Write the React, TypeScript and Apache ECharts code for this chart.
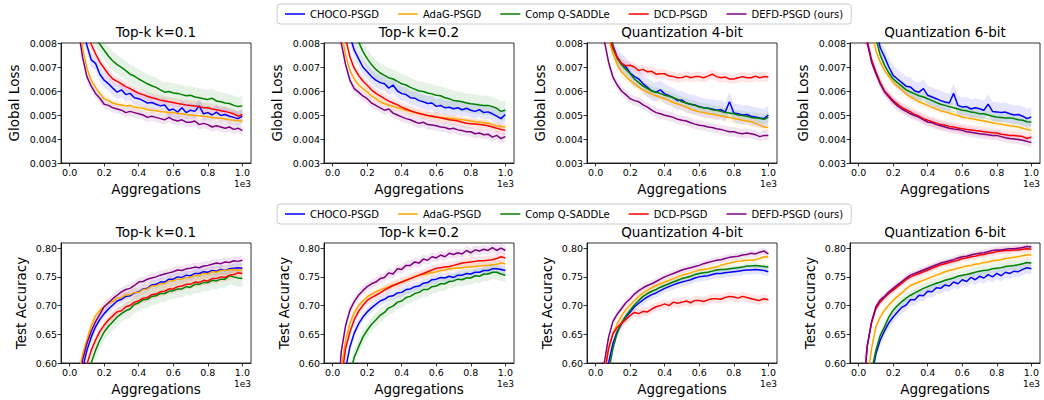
import React, { useEffect, useRef } from "react";
import * as echarts from "echarts";

const FONT = "DejaVu Sans";
const METHODS = ["CHOCO-PSGD", "AdaG-PSGD", "Comp Q-SADDLe", "DCD-PSGD", "DEFD-PSGD (ours)"];
const COLORS = ["#0000ff", "#ffa500", "#008000", "#ff0000", "#800080"];
const TITLES = ["Top-k k=0.1", "Top-k k=0.2", "Quantization 4-bit", "Quantization 6-bit"];

const X = [0, 25, 50, 75, 100, 125, 150, 175, 200, 225, 250, 275, 300, 325, 350, 375, 400, 425, 450, 475, 500,
  525, 550, 575, 600, 625, 650, 675, 700, 725, 750, 775, 800, 825, 850, 875, 900, 925, 950, 975, 1000];
const X_TICKS = [0, 200, 400, 600, 800, 1000];
const LOSS_TICKS = [0.003, 0.004, 0.005, 0.006, 0.007, 0.008];
const ACC_TICKS = [0.6, 0.65, 0.7, 0.75, 0.8];

// ---- Global loss, Top-k k=0.1
const L1_CHOCO = [14e-3, 12e-3, 10.2e-3, 8.8e-3, 7.9e-3, 7.3e-3, 7.15e-3, 6.7e-3, 6.45e-3, 6.3e-3, 6.12e-3, 5.95e-3, 6.05e-3, 5.85e-3, 5.9e-3, 5.72e-3, 5.68e-3, 5.6e-3, 5.5e-3, 5.52e-3, 5.45e-3, 5.38e-3, 5.42e-3, 5.2e-3, 5.25e-3, 5.12e-3, 5.3e-3, 5.1e-3, 5.2e-3, 5.15e-3, 5.38e-3, 5.05e-3, 5.1e-3, 5.0e-3, 5.12e-3, 4.98e-3, 5.02e-3, 4.95e-3, 4.9e-3, 4.85e-3, 4.95e-3];
const L1_ADAG = [14e-3, 11.5e-3, 9.2e-3, 7.8e-3, 6.95e-3, 6.45e-3, 6.15e-3, 5.9e-3, 5.68e-3, 5.6e-3, 5.5e-3, 5.45e-3, 5.42e-3, 5.38e-3, 5.4e-3, 5.33e-3, 5.3e-3, 5.28e-3, 5.22e-3, 5.2e-3, 5.18e-3, 5.15e-3, 5.12e-3, 5.1e-3, 5.1e-3, 5.06e-3, 5.05e-3, 5.02e-3, 5.0e-3, 4.98e-3, 4.97e-3, 4.95e-3, 4.93e-3, 4.9e-3, 4.88e-3, 4.86e-3, 4.83e-3, 4.8e-3, 4.78e-3, 4.76e-3, 4.75e-3];
const L1_COMPQ = [16e-3, 14e-3, 12e-3, 10.5e-3, 9.4e-3, 8.7e-3, 8.2e-3, 7.95e-3, 7.7e-3, 7.45e-3, 7.25e-3, 7.1e-3, 6.98e-3, 6.85e-3, 6.7e-3, 6.62e-3, 6.5e-3, 6.4e-3, 6.3e-3, 6.22e-3, 6.15e-3, 6.05e-3, 5.95e-3, 5.98e-3, 5.92e-3, 5.9e-3, 5.85e-3, 5.8e-3, 5.82e-3, 5.75e-3, 5.72e-3, 5.68e-3, 5.65e-3, 5.7e-3, 5.58e-3, 5.55e-3, 5.5e-3, 5.48e-3, 5.4e-3, 5.35e-3, 5.38e-3];
const L1_DCD = [15e-3, 12.8e-3, 10.8e-3, 9.4e-3, 8.5e-3, 7.95e-3, 7.55e-3, 7.2e-3, 6.95e-3, 6.7e-3, 6.5e-3, 6.4e-3, 6.3e-3, 6.18e-3, 6.1e-3, 6.0e-3, 5.9e-3, 5.85e-3, 5.78e-3, 5.72e-3, 5.68e-3, 5.62e-3, 5.58e-3, 5.55e-3, 5.52e-3, 5.48e-3, 5.45e-3, 5.42e-3, 5.4e-3, 5.38e-3, 5.35e-3, 5.3e-3, 5.3e-3, 5.25e-3, 5.22e-3, 5.18e-3, 5.15e-3, 5.1e-3, 5.05e-3, 4.95e-3, 5.02e-3];
const L1_DEFD = [12.5e-3, 10.5e-3, 8.6e-3, 7.4e-3, 6.6e-3, 6.2e-3, 5.9e-3, 5.7e-3, 5.45e-3, 5.4e-3, 5.3e-3, 5.25e-3, 5.2e-3, 5.1e-3, 5.15e-3, 5.1e-3, 5.05e-3, 5.0e-3, 4.9e-3, 4.95e-3, 4.9e-3, 4.85e-3, 4.8e-3, 4.9e-3, 4.8e-3, 4.75e-3, 4.8e-3, 4.7e-3, 4.7e-3, 4.75e-3, 4.6e-3, 4.65e-3, 4.6e-3, 4.5e-3, 4.55e-3, 4.5e-3, 4.45e-3, 4.5e-3, 4.4e-3, 4.45e-3, 4.35e-3];

// ---- Global loss, Top-k k=0.2
const L2_CHOCO = [15e-3, 13e-3, 11e-3, 9.4e-3, 8.3e-3, 7.7e-3, 7.35e-3, 7.0e-3, 6.8e-3, 6.6e-3, 6.45e-3, 6.35e-3, 6.3e-3, 6.12e-3, 6.25e-3, 6.0e-3, 5.89e-3, 5.85e-3, 5.72e-3, 5.7e-3, 5.6e-3, 5.55e-3, 5.48e-3, 5.5e-3, 5.36e-3, 5.4e-3, 5.3e-3, 5.32e-3, 5.26e-3, 5.3e-3, 5.22e-3, 5.28e-3, 5.2e-3, 5.15e-3, 5.22e-3, 5.1e-3, 5.13e-3, 5.05e-3, 4.95e-3, 4.85e-3, 5.02e-3];
const L2_ADAG = [12e-3, 10e-3, 8.5e-3, 7.5e-3, 6.86e-3, 6.5e-3, 6.25e-3, 6.1e-3, 5.96e-3, 5.8e-3, 5.68e-3, 5.55e-3, 5.47e-3, 5.42e-3, 5.36e-3, 5.3e-3, 5.26e-3, 5.2e-3, 5.15e-3, 5.1e-3, 5.08e-3, 5.02e-3, 4.98e-3, 4.95e-3, 4.92e-3, 4.9e-3, 4.88e-3, 4.86e-3, 4.85e-3, 4.82e-3, 4.8e-3, 4.78e-3, 4.75e-3, 4.72e-3, 4.7e-3, 4.68e-3, 4.66e-3, 4.6e-3, 4.55e-3, 4.52e-3, 4.5e-3];
const L2_COMPQ = [17e-3, 15e-3, 12.8e-3, 11e-3, 9.6e-3, 8.7e-3, 8.05e-3, 7.65e-3, 7.35e-3, 7.1e-3, 6.9e-3, 6.75e-3, 6.65e-3, 6.55e-3, 6.5e-3, 6.4e-3, 6.3e-3, 6.25e-3, 6.15e-3, 6.08e-3, 6.0e-3, 5.98e-3, 5.92e-3, 5.88e-3, 5.82e-3, 5.8e-3, 5.72e-3, 5.68e-3, 5.6e-3, 5.58e-3, 5.55e-3, 5.5e-3, 5.47e-3, 5.45e-3, 5.42e-3, 5.4e-3, 5.4e-3, 5.35e-3, 5.28e-3, 5.15e-3, 5.2e-3];
const L2_DCD = [13e-3, 11e-3, 9.3e-3, 8.2e-3, 7.42e-3, 6.95e-3, 6.65e-3, 6.42e-3, 6.24e-3, 6.05e-3, 5.9e-3, 5.8e-3, 5.68e-3, 5.58e-3, 5.5e-3, 5.42e-3, 5.33e-3, 5.25e-3, 5.18e-3, 5.12e-3, 5.06e-3, 5.02e-3, 4.98e-3, 4.95e-3, 4.92e-3, 4.88e-3, 4.84e-3, 4.8e-3, 4.78e-3, 4.75e-3, 4.7e-3, 4.66e-3, 4.64e-3, 4.62e-3, 4.6e-3, 4.58e-3, 4.55e-3, 4.5e-3, 4.45e-3, 4.4e-3, 4.36e-3];
const L2_DEFD = [11e-3, 9.3e-3, 8.0e-3, 7.1e-3, 6.45e-3, 6.1e-3, 5.95e-3, 5.8e-3, 5.68e-3, 5.5e-3, 5.4e-3, 5.3e-3, 5.2e-3, 5.25e-3, 5.08e-3, 5.0e-3, 4.92e-3, 4.85e-3, 4.8e-3, 4.72e-3, 4.65e-3, 4.7e-3, 4.6e-3, 4.58e-3, 4.55e-3, 4.5e-3, 4.48e-3, 4.42e-3, 4.45e-3, 4.38e-3, 4.35e-3, 4.3e-3, 4.3e-3, 4.22e-3, 4.25e-3, 4.18e-3, 4.2e-3, 4.08e-3, 4.15e-3, 4.02e-3, 4.1e-3];

// ---- Global loss, Quantization 4-bit
const L3_CHOCO = [14e-3, 12e-3, 10e-3, 8.8e-3, 7.9e-3, 7.4e-3, 7.15e-3, 7.0e-3, 6.75e-3, 6.6e-3, 6.5e-3, 6.3e-3, 6.15e-3, 6.0e-3, 5.95e-3, 6.05e-3, 5.88e-3, 5.8e-3, 5.72e-3, 5.6e-3, 5.62e-3, 5.5e-3, 5.45e-3, 5.42e-3, 5.35e-3, 5.3e-3, 5.28e-3, 5.25e-3, 5.2e-3, 5.22e-3, 5.12e-3, 5.55e-3, 5.08e-3, 5.05e-3, 5.0e-3, 5.02e-3, 4.95e-3, 4.92e-3, 4.88e-3, 4.85e-3, 5.0e-3];
const L3_ADAG = [13e-3, 11e-3, 9.4e-3, 8.2e-3, 7.56e-3, 7.1e-3, 6.8e-3, 6.6e-3, 6.44e-3, 6.3e-3, 6.15e-3, 6.05e-3, 5.96e-3, 5.88e-3, 5.8e-3, 5.74e-3, 5.68e-3, 5.6e-3, 5.52e-3, 5.46e-3, 5.4e-3, 5.32e-3, 5.25e-3, 5.18e-3, 5.13e-3, 5.1e-3, 5.06e-3, 5.03e-3, 5.0e-3, 4.96e-3, 4.93e-3, 4.9e-3, 4.85e-3, 4.82e-3, 4.78e-3, 4.75e-3, 4.72e-3, 4.65e-3, 4.58e-3, 4.5e-3, 4.48e-3];
const L3_COMPQ = [14e-3, 12e-3, 10.2e-3, 8.8e-3, 7.85e-3, 7.35e-3, 7.1e-3, 6.9e-3, 6.72e-3, 6.5e-3, 6.35e-3, 6.2e-3, 6.1e-3, 6.0e-3, 5.95e-3, 5.9e-3, 5.82e-3, 5.78e-3, 5.72e-3, 5.65e-3, 5.55e-3, 5.5e-3, 5.45e-3, 5.4e-3, 5.33e-3, 5.3e-3, 5.28e-3, 5.22e-3, 5.2e-3, 5.15e-3, 5.1e-3, 5.08e-3, 5.05e-3, 5.0e-3, 4.98e-3, 4.95e-3, 4.9e-3, 4.88e-3, 4.85e-3, 4.82e-3, 4.9e-3];
const L3_DCD = [13e-3, 11e-3, 9.5e-3, 8.4e-3, 7.76e-3, 7.4e-3, 7.15e-3, 7.05e-3, 7.07e-3, 7.0e-3, 6.85e-3, 6.9e-3, 6.8e-3, 6.82e-3, 6.7e-3, 6.72e-3, 6.72e-3, 6.62e-3, 6.6e-3, 6.55e-3, 6.56e-3, 6.62e-3, 6.55e-3, 6.6e-3, 6.6e-3, 6.55e-3, 6.62e-3, 6.7e-3, 6.6e-3, 6.55e-3, 6.58e-3, 6.5e-3, 6.5e-3, 6.55e-3, 6.6e-3, 6.55e-3, 6.55e-3, 6.62e-3, 6.55e-3, 6.6e-3, 6.58e-3];
const L3_DEFD = [11e-3, 9.5e-3, 8.1e-3, 7.2e-3, 6.58e-3, 6.25e-3, 6.0e-3, 5.85e-3, 5.68e-3, 5.6e-3, 5.55e-3, 5.42e-3, 5.33e-3, 5.2e-3, 5.1e-3, 5.05e-3, 4.99e-3, 4.95e-3, 4.9e-3, 4.82e-3, 4.78e-3, 4.75e-3, 4.68e-3, 4.62e-3, 4.57e-3, 4.55e-3, 4.5e-3, 4.48e-3, 4.43e-3, 4.4e-3, 4.35e-3, 4.3e-3, 4.3e-3, 4.25e-3, 4.22e-3, 4.25e-3, 4.22e-3, 4.18e-3, 4.1e-3, 4.15e-3, 4.15e-3];

// ---- Global loss, Quantization 6-bit
const L4_CHOCO = [16e-3, 14e-3, 12e-3, 10e-3, 8.6e-3, 7.8e-3, 7.42e-3, 7.0e-3, 6.65e-3, 6.5e-3, 6.35e-3, 6.2e-3, 6.17e-3, 6.0e-3, 5.95e-3, 6.1e-3, 5.82e-3, 5.75e-3, 5.68e-3, 5.6e-3, 5.54e-3, 5.5e-3, 5.9e-3, 5.4e-3, 5.33e-3, 5.35e-3, 5.25e-3, 5.3e-3, 5.26e-3, 5.2e-3, 5.45e-3, 5.15e-3, 5.13e-3, 5.1e-3, 5.12e-3, 5.05e-3, 5.0e-3, 5.02e-3, 4.95e-3, 4.85e-3, 4.92e-3];
const L4_ADAG = [13e-3, 11.5e-3, 9.8e-3, 8.5e-3, 7.7e-3, 7.2e-3, 6.86e-3, 6.6e-3, 6.37e-3, 6.2e-3, 6.05e-3, 5.88e-3, 5.75e-3, 5.65e-3, 5.55e-3, 5.48e-3, 5.4e-3, 5.32e-3, 5.25e-3, 5.18e-3, 5.13e-3, 5.08e-3, 5.02e-3, 4.98e-3, 4.92e-3, 4.88e-3, 4.85e-3, 4.82e-3, 4.78e-3, 4.75e-3, 4.72e-3, 4.68e-3, 4.64e-3, 4.62e-3, 4.58e-3, 4.55e-3, 4.53e-3, 4.5e-3, 4.45e-3, 4.4e-3, 4.36e-3];
const L4_COMPQ = [15e-3, 13e-3, 11e-3, 9.4e-3, 8.2e-3, 7.5e-3, 7.07e-3, 6.75e-3, 6.5e-3, 6.35e-3, 6.2e-3, 6.05e-3, 5.96e-3, 5.88e-3, 5.8e-3, 5.75e-3, 5.68e-3, 5.6e-3, 5.52e-3, 5.45e-3, 5.4e-3, 5.35e-3, 5.3e-3, 5.25e-3, 5.2e-3, 5.18e-3, 5.12e-3, 5.1e-3, 5.05e-3, 5.05e-3, 5.0e-3, 4.95e-3, 4.92e-3, 4.9e-3, 4.88e-3, 4.88e-3, 4.85e-3, 4.8e-3, 4.78e-3, 4.72e-3, 4.71e-3];
const L4_DCD = [11e-3, 9.5e-3, 8.1e-3, 7.3e-3, 6.8e-3, 6.35e-3, 6.0e-3, 5.8e-3, 5.6e-3, 5.45e-3, 5.32e-3, 5.22e-3, 5.13e-3, 5.02e-3, 4.95e-3, 4.85e-3, 4.78e-3, 4.72e-3, 4.66e-3, 4.6e-3, 4.57e-3, 4.52e-3, 4.5e-3, 4.46e-3, 4.43e-3, 4.4e-3, 4.38e-3, 4.35e-3, 4.33e-3, 4.3e-3, 4.28e-3, 4.26e-3, 4.25e-3, 4.2e-3, 4.18e-3, 4.15e-3, 4.15e-3, 4.12e-3, 4.1e-3, 4.02e-3, 4.08e-3];
const L4_DEFD = [11e-3, 9.4e-3, 8.0e-3, 7.2e-3, 6.72e-3, 6.3e-3, 5.96e-3, 5.75e-3, 5.54e-3, 5.38e-3, 5.25e-3, 5.15e-3, 5.05e-3, 4.98e-3, 4.9e-3, 4.8e-3, 4.71e-3, 4.68e-3, 4.6e-3, 4.55e-3, 4.5e-3, 4.45e-3, 4.42e-3, 4.4e-3, 4.36e-3, 4.3e-3, 4.28e-3, 4.25e-3, 4.22e-3, 4.2e-3, 4.18e-3, 4.15e-3, 4.15e-3, 4.1e-3, 4.05e-3, 4.02e-3, 4.0e-3, 3.98e-3, 3.95e-3, 3.9e-3, 3.85e-3];

// ---- Test accuracy, Top-k k=0.1
const A1_CHOCO = [0.33, 0.43, 0.52, 0.59, 0.622, 0.645, 0.663, 0.676, 0.686, 0.694, 0.701, 0.708, 0.711, 0.716, 0.717, 0.722, 0.724, 0.729, 0.73, 0.736, 0.737, 0.741, 0.741, 0.746, 0.746, 0.75, 0.749, 0.753, 0.752, 0.756, 0.756, 0.759, 0.758, 0.761, 0.76, 0.763, 0.761, 0.764, 0.765, 0.766, 0.765];
const A1_ADAG = [0.38, 0.48, 0.57, 0.615, 0.64, 0.665, 0.682, 0.692, 0.698, 0.704, 0.707, 0.713, 0.714, 0.719, 0.719, 0.723, 0.723, 0.728, 0.729, 0.734, 0.734, 0.738, 0.738, 0.743, 0.743, 0.746, 0.746, 0.749, 0.749, 0.753, 0.752, 0.756, 0.755, 0.759, 0.758, 0.761, 0.761, 0.762, 0.763, 0.762, 0.762];
const A1_COMPQ = [0.28, 0.36, 0.44, 0.52, 0.57, 0.6, 0.622, 0.64, 0.654, 0.664, 0.672, 0.68, 0.686, 0.691, 0.694, 0.702, 0.705, 0.71, 0.711, 0.716, 0.717, 0.721, 0.721, 0.725, 0.726, 0.729, 0.729, 0.733, 0.732, 0.737, 0.737, 0.74, 0.74, 0.744, 0.743, 0.746, 0.746, 0.752, 0.75, 0.748, 0.747];
const A1_DCD = [0.3, 0.38, 0.47, 0.55, 0.598, 0.622, 0.64, 0.655, 0.666, 0.675, 0.682, 0.689, 0.691, 0.698, 0.7, 0.706, 0.708, 0.713, 0.714, 0.719, 0.72, 0.724, 0.725, 0.729, 0.729, 0.733, 0.734, 0.737, 0.737, 0.741, 0.74, 0.744, 0.743, 0.747, 0.747, 0.75, 0.749, 0.753, 0.754, 0.757, 0.756];
const A1_DEFD = [0.35, 0.45, 0.54, 0.605, 0.634, 0.655, 0.672, 0.685, 0.698, 0.705, 0.712, 0.718, 0.724, 0.728, 0.73, 0.735, 0.741, 0.742, 0.746, 0.748, 0.75, 0.753, 0.755, 0.757, 0.759, 0.762, 0.761, 0.764, 0.765, 0.767, 0.766, 0.769, 0.77, 0.772, 0.774, 0.773, 0.776, 0.775, 0.778, 0.777, 0.779];

// ---- Test accuracy, Top-k k=0.2
const A2_CHOCO = [0.33, 0.43, 0.52, 0.59, 0.628, 0.652, 0.668, 0.68, 0.689, 0.696, 0.702, 0.708, 0.711, 0.716, 0.717, 0.722, 0.723, 0.728, 0.729, 0.733, 0.734, 0.739, 0.74, 0.745, 0.746, 0.749, 0.748, 0.751, 0.749, 0.753, 0.753, 0.756, 0.755, 0.758, 0.758, 0.761, 0.761, 0.764, 0.764, 0.763, 0.761];
const A2_ADAG = [0.38, 0.5, 0.59, 0.64, 0.669, 0.688, 0.7, 0.708, 0.715, 0.72, 0.724, 0.727, 0.73, 0.733, 0.736, 0.738, 0.741, 0.744, 0.747, 0.75, 0.753, 0.754, 0.756, 0.757, 0.759, 0.761, 0.762, 0.764, 0.765, 0.765, 0.766, 0.767, 0.767, 0.768, 0.769, 0.77, 0.77, 0.771, 0.772, 0.774, 0.773];
const A2_COMPQ = [0.28, 0.36, 0.45, 0.53, 0.58, 0.61, 0.628, 0.645, 0.657, 0.667, 0.675, 0.683, 0.688, 0.696, 0.699, 0.706, 0.708, 0.714, 0.716, 0.721, 0.723, 0.728, 0.728, 0.733, 0.734, 0.738, 0.738, 0.742, 0.743, 0.746, 0.745, 0.748, 0.748, 0.752, 0.751, 0.755, 0.755, 0.758, 0.758, 0.755, 0.753];
const A2_DCD = [0.36, 0.47, 0.57, 0.625, 0.654, 0.675, 0.69, 0.7, 0.709, 0.714, 0.718, 0.722, 0.727, 0.731, 0.735, 0.738, 0.741, 0.744, 0.747, 0.75, 0.753, 0.756, 0.759, 0.762, 0.765, 0.766, 0.767, 0.768, 0.77, 0.772, 0.774, 0.775, 0.776, 0.777, 0.778, 0.778, 0.779, 0.78, 0.782, 0.785, 0.783];
const A2_DEFD = [0.4, 0.52, 0.62, 0.665, 0.692, 0.707, 0.718, 0.726, 0.733, 0.738, 0.741, 0.747, 0.749, 0.757, 0.755, 0.764, 0.763, 0.77, 0.77, 0.776, 0.774, 0.781, 0.779, 0.785, 0.783, 0.788, 0.785, 0.791, 0.789, 0.792, 0.79, 0.796, 0.792, 0.797, 0.795, 0.798, 0.796, 0.801, 0.796, 0.8, 0.796];

// ---- Test accuracy, Quantization 4-bit
const A3_CHOCO = [0.34, 0.44, 0.53, 0.6, 0.634, 0.655, 0.668, 0.68, 0.689, 0.698, 0.704, 0.71, 0.715, 0.719, 0.722, 0.726, 0.73, 0.733, 0.736, 0.739, 0.741, 0.743, 0.745, 0.748, 0.75, 0.751, 0.752, 0.754, 0.756, 0.756, 0.757, 0.758, 0.759, 0.76, 0.761, 0.762, 0.762, 0.763, 0.762, 0.761, 0.759];
const A3_ADAG = [0.38, 0.48, 0.58, 0.625, 0.651, 0.668, 0.682, 0.693, 0.701, 0.709, 0.716, 0.722, 0.727, 0.731, 0.735, 0.738, 0.741, 0.744, 0.747, 0.75, 0.753, 0.755, 0.757, 0.76, 0.762, 0.763, 0.764, 0.766, 0.767, 0.77, 0.772, 0.774, 0.776, 0.777, 0.778, 0.779, 0.779, 0.78, 0.782, 0.785, 0.784];
const A3_COMPQ = [0.32, 0.42, 0.51, 0.585, 0.625, 0.652, 0.67, 0.682, 0.692, 0.701, 0.709, 0.716, 0.721, 0.725, 0.728, 0.732, 0.735, 0.738, 0.741, 0.744, 0.747, 0.749, 0.751, 0.754, 0.756, 0.757, 0.758, 0.76, 0.762, 0.763, 0.763, 0.764, 0.765, 0.766, 0.767, 0.769, 0.769, 0.77, 0.769, 0.768, 0.767];
const A3_DCD = [0.38, 0.48, 0.58, 0.625, 0.651, 0.662, 0.669, 0.676, 0.683, 0.688, 0.686, 0.69, 0.689, 0.694, 0.698, 0.7, 0.703, 0.7, 0.706, 0.704, 0.706, 0.708, 0.705, 0.709, 0.709, 0.707, 0.71, 0.712, 0.712, 0.711, 0.714, 0.716, 0.715, 0.713, 0.716, 0.714, 0.712, 0.71, 0.709, 0.712, 0.71];
const A3_DEFD = [0.4, 0.5, 0.6, 0.645, 0.672, 0.685, 0.695, 0.705, 0.712, 0.72, 0.726, 0.731, 0.735, 0.738, 0.742, 0.746, 0.75, 0.753, 0.756, 0.759, 0.762, 0.764, 0.766, 0.768, 0.77, 0.773, 0.775, 0.777, 0.779, 0.78, 0.782, 0.784, 0.785, 0.786, 0.788, 0.789, 0.791, 0.79, 0.793, 0.795, 0.79];

// ---- Test accuracy, Quantization 6-bit
const A4_CHOCO = [0.3, 0.4, 0.5, 0.575, 0.616, 0.64, 0.656, 0.67, 0.68, 0.689, 0.697, 0.701, 0.71, 0.71, 0.718, 0.717, 0.725, 0.724, 0.731, 0.73, 0.736, 0.734, 0.741, 0.738, 0.745, 0.742, 0.749, 0.745, 0.751, 0.748, 0.754, 0.75, 0.756, 0.752, 0.758, 0.756, 0.76, 0.759, 0.763, 0.766, 0.764];
const A4_ADAG = [0.36, 0.47, 0.57, 0.625, 0.663, 0.68, 0.692, 0.701, 0.709, 0.716, 0.722, 0.729, 0.735, 0.738, 0.741, 0.744, 0.747, 0.75, 0.753, 0.756, 0.759, 0.761, 0.763, 0.765, 0.767, 0.769, 0.77, 0.772, 0.773, 0.775, 0.776, 0.778, 0.779, 0.78, 0.782, 0.783, 0.784, 0.785, 0.787, 0.788, 0.788];
const A4_COMPQ = [0.32, 0.42, 0.51, 0.585, 0.622, 0.648, 0.663, 0.68, 0.692, 0.7, 0.707, 0.713, 0.718, 0.722, 0.726, 0.73, 0.733, 0.736, 0.739, 0.741, 0.744, 0.746, 0.748, 0.751, 0.753, 0.754, 0.756, 0.758, 0.76, 0.761, 0.762, 0.764, 0.765, 0.766, 0.768, 0.769, 0.77, 0.771, 0.773, 0.775, 0.774];
const A4_DCD = [0.42, 0.54, 0.63, 0.67, 0.695, 0.706, 0.714, 0.721, 0.727, 0.733, 0.739, 0.745, 0.75, 0.753, 0.756, 0.759, 0.762, 0.765, 0.768, 0.771, 0.773, 0.775, 0.777, 0.779, 0.782, 0.783, 0.785, 0.786, 0.788, 0.789, 0.791, 0.792, 0.794, 0.795, 0.796, 0.796, 0.797, 0.797, 0.798, 0.799, 0.798];
const A4_DEFD = [0.42, 0.54, 0.63, 0.672, 0.698, 0.71, 0.716, 0.724, 0.73, 0.736, 0.742, 0.748, 0.753, 0.756, 0.759, 0.762, 0.765, 0.768, 0.771, 0.774, 0.776, 0.778, 0.78, 0.783, 0.785, 0.786, 0.788, 0.79, 0.791, 0.792, 0.794, 0.796, 0.797, 0.797, 0.798, 0.799, 0.799, 0.8, 0.801, 0.803, 0.802];

// shaded spread (one std) per method, per panel
const LOSS_SPREAD_1 = [3e-4, 1.5e-4, 4e-4, 2e-4, 2e-4];
const LOSS_SPREAD_2 = [3e-4, 1.5e-4, 4e-4, 2e-4, 2e-4];
const LOSS_SPREAD_3 = [4e-4, 2e-4, 2e-4, 2e-4, 2e-4];
const LOSS_SPREAD_4 = [4e-4, 1.5e-4, 2e-4, 2e-4, 2e-4];
const ACC_SPREAD_1 = [0.008, 0.008, 0.015, 0.008, 0.008];
const ACC_SPREAD_2 = [0.008, 0.006, 0.012, 0.008, 0.008];
const ACC_SPREAD_3 = [0.008, 0.005, 0.005, 0.008, 0.006];
const ACC_SPREAD_4 = [0.01, 0.006, 0.008, 0.006, 0.006];

const PANELS = [
  { series: [L1_CHOCO, L1_ADAG, L1_COMPQ, L1_DCD, L1_DEFD], spread: LOSS_SPREAD_1, kind: "loss" },
  { series: [L2_CHOCO, L2_ADAG, L2_COMPQ, L2_DCD, L2_DEFD], spread: LOSS_SPREAD_2, kind: "loss" },
  { series: [L3_CHOCO, L3_ADAG, L3_COMPQ, L3_DCD, L3_DEFD], spread: LOSS_SPREAD_3, kind: "loss" },
  { series: [L4_CHOCO, L4_ADAG, L4_COMPQ, L4_DCD, L4_DEFD], spread: LOSS_SPREAD_4, kind: "loss" },
  { series: [A1_CHOCO, A1_ADAG, A1_COMPQ, A1_DCD, A1_DEFD], spread: ACC_SPREAD_1, kind: "acc" },
  { series: [A2_CHOCO, A2_ADAG, A2_COMPQ, A2_DCD, A2_DEFD], spread: ACC_SPREAD_2, kind: "acc" },
  { series: [A3_CHOCO, A3_ADAG, A3_COMPQ, A3_DCD, A3_DEFD], spread: ACC_SPREAD_3, kind: "acc" },
  { series: [A4_CHOCO, A4_ADAG, A4_COMPQ, A4_DCD, A4_DEFD], spread: ACC_SPREAD_4, kind: "acc" },
];

// layout
const GRID_LEFTS = [61, 324, 587, 850];
const ROW_TOPS = [43, 243];
const GRID_W = 190;
const GRID_H = 120;

function buildOption() {
  const grid: any[] = [];
  const xAxis: any[] = [];
  const yAxis: any[] = [];
  const series: any[] = [];
  const graphic: any[] = [];
  const black = "#000";

  PANELS.forEach((p, g) => {
    const col = g % 4;
    const row = Math.floor(g / 4);
    const left = GRID_LEFTS[col];
    const top = ROW_TOPS[row];
    const isLoss = p.kind === "loss";
    const yMin = isLoss ? 0.003 : 0.6;
    const yMax = isLoss ? 0.008 : 0.809;
    grid.push({ left, top, width: GRID_W, height: GRID_H, show: true, borderColor: black, borderWidth: 0.8, backgroundColor: "transparent" });
    xAxis.push({
      gridIndex: g, type: "value", min: -50, max: 1050,
      axisLine: { show: true, onZero: false, lineStyle: { color: black, width: 0.8 } },
      axisTick: { show: true, length: 3.5, customValues: X_TICKS, lineStyle: { color: black, width: 0.8 } },
      axisLabel: { customValues: X_TICKS, formatter: (v: number) => (v / 1000).toFixed(1), fontSize: 9.5, color: black, fontFamily: FONT, margin: 4 },
      splitLine: { show: false },
    });
    const yt = isLoss ? LOSS_TICKS : ACC_TICKS;
    yAxis.push({
      gridIndex: g, type: "value", min: yMin, max: yMax,
      axisLine: { show: true, onZero: false, lineStyle: { color: black, width: 0.8 } },
      axisTick: { show: true, length: 3.5, customValues: yt, lineStyle: { color: black, width: 0.8 } },
      axisLabel: { customValues: yt, formatter: (v: number) => v.toFixed(isLoss ? 3 : 2), fontSize: 9.5, color: black, fontFamily: FONT, margin: 4 },
      splitLine: { show: false },
    });

    const clampY = (v: number) => Math.min(yMax, Math.max(yMin, v));
    p.series.forEach((vals, m) => {
      const s = p.spread[m];
      const color = COLORS[m];
      series.push({
        type: "custom", name: `_band_${g}_${m}`, xAxisIndex: g, yAxisIndex: g, silent: true, z: 1, clip: true,
        data: [[X[20], vals[20]]],
        renderItem: (_params: any, api: any) => {
          const pts: number[][] = [];
          for (let i = 0; i < X.length; i++) pts.push(api.coord([X[i], clampY(vals[i] + s)]));
          for (let i = X.length - 1; i >= 0; i--) pts.push(api.coord([X[i], clampY(vals[i] - s)]));
          return { type: "polygon", shape: { points: pts }, style: { fill: color, opacity: 0.1 } };
        },
      });
    });
    p.series.forEach((vals, m) => {
      series.push({
        type: "line", name: METHODS[m], xAxisIndex: g, yAxisIndex: g,
        data: X.map((x, i) => [x, vals[i]]), symbol: "none",
        lineStyle: { color: COLORS[m], width: 1.5 }, itemStyle: { color: COLORS[m] }, z: 3 + m,
      });
    });

    const cx = left + GRID_W / 2;
    const cy = top + GRID_H / 2;
    const big = `13.5px '${FONT}'`;
    graphic.push({ type: "text", x: cx, y: top - 11, style: { text: TITLES[col], font: big, fill: black, textAlign: "center", textVerticalAlign: "middle" } });
    graphic.push({ type: "text", x: cx, y: top + GRID_H + 26, style: { text: "Aggregations", font: big, fill: black, textAlign: "center", textVerticalAlign: "middle" } });
    graphic.push({ type: "text", x: left + GRID_W, y: top + GRID_H + 21, style: { text: "1e3", font: `9px '${FONT}'`, fill: black, textAlign: "right", textVerticalAlign: "middle" } });
    graphic.push({ type: "text", x: left - (isLoss ? 47 : 40), y: cy, rotation: Math.PI / 2, style: { text: isLoss ? "Global Loss" : "Test Accuracy", font: big, fill: black, textAlign: "center", textVerticalAlign: "middle" } });
  });

  const legendBase = {
    data: METHODS, left: 277, icon: "rect", itemWidth: 20, itemHeight: 1.5, itemGap: 19,
    textStyle: { fontSize: 10, lineHeight: 10, fontFamily: FONT, color: black },
    borderColor: "#cccccc", borderWidth: 1, borderRadius: 3, padding: [5, 8], backgroundColor: "#fff",
    selectedMode: false,
  };

  return {
    animation: false,
    backgroundColor: "#ffffff",
    textStyle: { fontFamily: FONT },
    legend: [{ ...legendBase, top: 4 }, { ...legendBase, top: 204 }],
    grid, xAxis, yAxis, series, graphic,
  };
}

export default function App() {
  const ref = useRef<HTMLDivElement>(null);
  useEffect(() => {
    if (!ref.current) return;
    const chart = echarts.init(ref.current, null, { renderer: "svg" });
    chart.setOption(buildOption() as any);
    return () => chart.dispose();
  }, []);
  return <div ref={ref} style={{ position: "fixed", left: 0, top: 0, width: 1044, height: 400, background: "#fff" }} />;
}
